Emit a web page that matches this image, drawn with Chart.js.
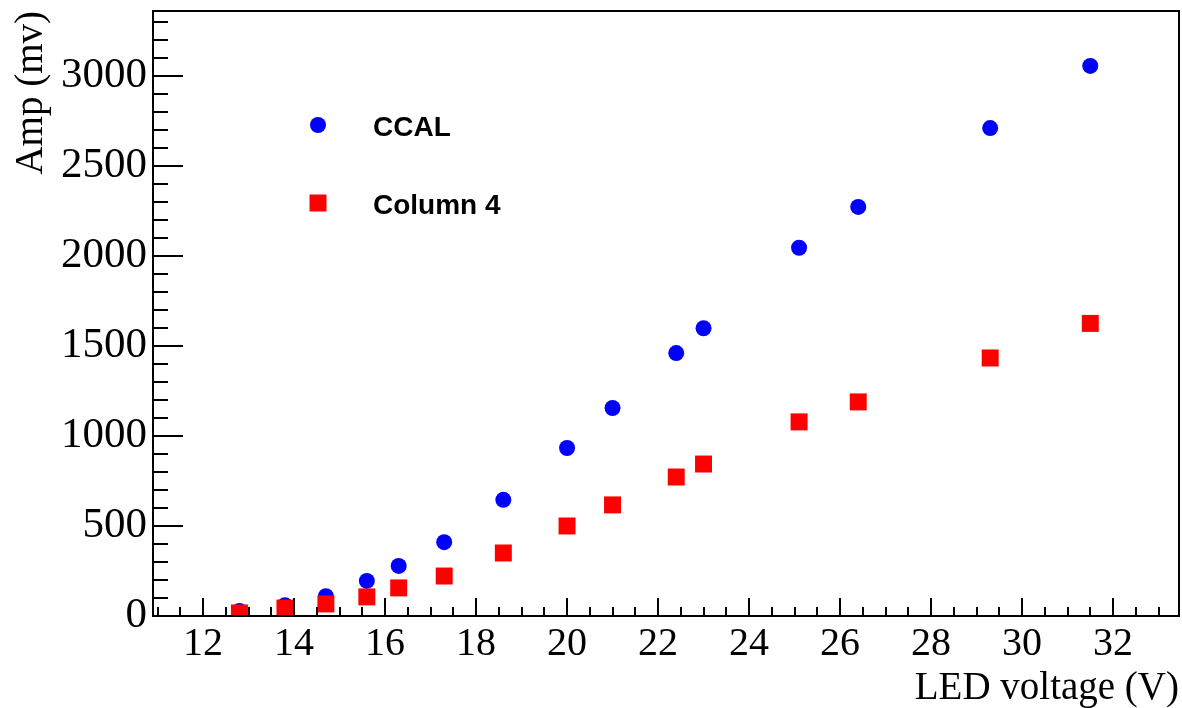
<!DOCTYPE html>
<html>
<head>
<meta charset="utf-8">
<script src="https://cdn.jsdelivr.net/npm/chart.js@4/dist/chart.umd.min.js"></script>
<style>
  html, body { margin: 0; padding: 0; background: #fff; overflow: hidden; }
  #wrap { width: 1182px; height: 708px; }
</style>
</head>
<body>
<div id="wrap"><canvas id="amp_chart"></canvas></div>
<script>
// LED voltage (V)
var voltage = [12.8, 13.8, 14.7, 15.6, 16.3, 17.3, 18.6, 20.0, 21.0, 22.4, 23.0, 25.1, 26.4, 29.3, 31.5];
// amplitudes (mV)
var ccal = [28, 60, 110, 195, 278, 410, 645, 933, 1155, 1460, 1598, 2045, 2272, 2710, 3055];
var column4 = [17, 44, 67, 106, 156, 222, 350, 500, 617, 772, 844, 1078, 1189, 1433, 1625];
var xTicks = [12, 14, 16, 18, 20, 22, 24, 26, 28, 30, 32];
var yTicks = [0, 500, 1000, 1500, 2000, 2500, 3000];

function pts(ys) {
  return voltage.map(function(v, i) { return {x: v, y: ys[i]}; });
}

// ROOT style: frame, inward major + minor ticks, legend box
var rootFrame = {
  id: 'rootFrame',
  afterDraw: function(chart) {
    var ctx = chart.ctx, a = chart.chartArea;
    var xs = chart.scales.x, ys = chart.scales.y;
    ctx.save();
    ctx.strokeStyle = '#000';
    ctx.lineWidth = 2;
    ctx.strokeRect(a.left, a.top, a.right - a.left, a.bottom - a.top);
    ctx.beginPath();
    for (var v = 11; v <= xs.max; v += 0.5) {
      var px = Math.round(xs.getPixelForValue(v));
      var len = (v % 2 === 0) ? 18 : 9;
      ctx.moveTo(px, a.bottom);
      ctx.lineTo(px, a.bottom - len);
    }
    for (var w = 0; w <= ys.max; w += 100) {
      var py = Math.round(ys.getPixelForValue(w));
      var l2 = (w % 500 === 0) ? 30 : 15;
      ctx.moveTo(a.left, py);
      ctx.lineTo(a.left + l2, py);
    }
    ctx.stroke();

    // legend
    var items = chart.data.datasets;
    var rows = [125, 203];
    items.forEach(function(ds, i) {
      var y = rows[i];
      ctx.fillStyle = ds.backgroundColor;
      ctx.beginPath();
      if (ds.pointStyle === 'rect') {
        ctx.rect(318 - 8.5, y - 8.5, 17, 17);
      } else {
        ctx.arc(318, y, 8, 0, Math.PI * 2);
      }
      ctx.fill();
      ctx.fillStyle = '#000';
      ctx.font = 'bold 28px "Liberation Sans", Arial, sans-serif';
      ctx.textAlign = 'left';
      ctx.textBaseline = 'middle';
      ctx.fillText(ds.label, 373, y + 3);
    });
    ctx.restore();
  }
};

var serif = '"Liberation Serif", "Times New Roman", serif';

new Chart(document.getElementById('amp_chart'), {
  type: 'scatter',
  data: {
    datasets: [{
      label: 'CCAL',
      data: pts(ccal),
      pointStyle: 'circle',
      pointRadius: 8,
      pointHoverRadius: 8,
      borderWidth: 0,
      backgroundColor: '#0000ff',
      borderColor: '#0000ff',
      order: 1
    }, {
      label: 'Column 4',
      data: pts(column4),
      pointStyle: 'rect',
      pointRadius: 12,
      pointHoverRadius: 12,
      borderWidth: 0,
      backgroundColor: '#ff0000',
      borderColor: '#ff0000',
      order: 0
    }]
  },
  options: {
    responsive: true,
    maintainAspectRatio: false,
    animation: false,
    layout: { autoPadding: false, padding: { left: 0, right: 3, top: 11, bottom: 0 } },
    plugins: {
      legend: { display: false },
      tooltip: { enabled: false }
    },
    scales: {
      x: {
        type: 'linear',
        min: 10.9,
        max: 33.45,
        afterFit: function(s) { s.height = 92; s.paddingLeft = 0; s.paddingRight = 0; },
        afterBuildTicks: function(s) { s.ticks = xTicks.map(function(v) { return {value: v}; }); },
        grid: { display: false, drawTicks: false },
        border: { display: false },
        ticks: {
          autoSkip: false,
          maxRotation: 0,
          padding: 4,
          color: '#000',
          font: { family: serif, size: 40 },
          callback: function(v) { return String(v); }
        },
        title: {
          display: true,
          text: 'LED voltage (V)',
          align: 'end',
          color: '#000',
          padding: 0,
          font: { family: serif, size: 39, lineHeight: 1 }
        }
      },
      y: {
        type: 'linear',
        min: 0,
        max: 3360,
        afterFit: function(s) { s.width = 153; s.paddingTop = 0; s.paddingBottom = 0; },
        afterBuildTicks: function(s) { s.ticks = yTicks.map(function(v) { return {value: v}; }); },
        grid: { display: false, drawTicks: false },
        border: { display: false },
        ticks: {
          autoSkip: false,
          padding: 6,
          color: '#000',
          font: { family: serif, size: 43 },
          callback: function(v) { return String(v); }
        },
        title: {
          display: true,
          text: 'Amp (mv)',
          align: 'end',
          color: '#000',
          padding: { top: 8, bottom: 0 },
          font: { family: serif, size: 39 }
        }
      }
    }
  },
  plugins: [rootFrame]
});
</script>
</body>
</html>
